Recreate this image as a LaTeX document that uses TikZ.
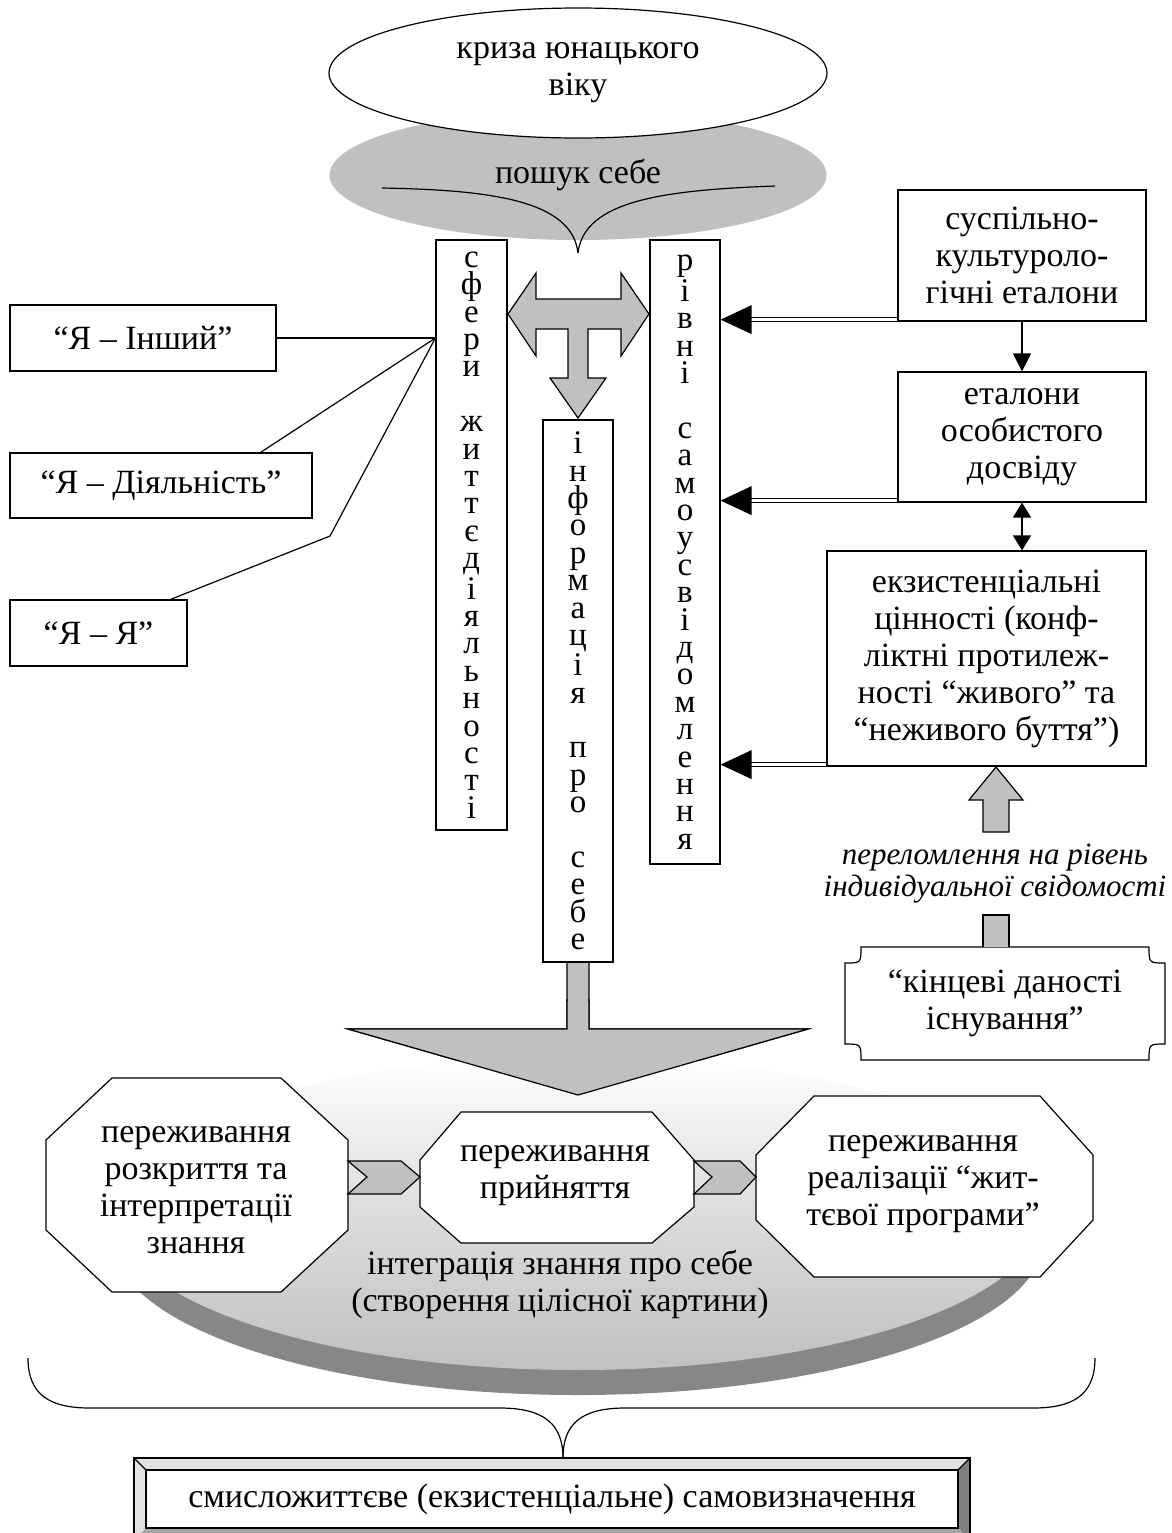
\documentclass[tikz,border=0pt]{standalone}
\usepackage{fontspec}
\setmainfont{Liberation Serif}
\usetikzlibrary{arrows.meta,shapes.geometric}
\definecolor{gr}{RGB}{192,192,192}
\definecolor{rim}{RGB}{135,135,135}
\definecolor{bevl}{RGB}{225,225,225}
\definecolor{bevd}{RGB}{128,128,128}
\definecolor{bevb}{RGB}{165,165,165}
\begin{document}
\begin{tikzpicture}[x=0.5pt,y=-0.5pt,line width=0.6pt,
  txt/.style={font=\fontsize{17}{18.5}\selectfont,align=center,inner sep=0pt},
  box/.style={draw,fill=white,font=\fontsize{17}{18.5}\selectfont,align=center,inner sep=0pt},
  colbox/.style={draw,fill=white,font=\fontsize{16.5}{13.7}\selectfont,align=center,inner sep=0pt},
  grarrow/.style={draw,fill=gr,line width=0.6pt,line join=miter},
  dbl/.style={double,double distance=1.4pt,line width=0.5pt},
  tri/.style={-{Triangle[length=9pt,width=9pt]}},
  bitri/.style={{Triangle[length=7.5pt,width=9pt]}-{Triangle[length=7.5pt,width=9pt]}}]
\useasboundingbox (0,0) rectangle (1172,1533);

% ---------- top ellipses ----------
\node[ellipse,fill=gr,minimum width=248.5pt,minimum height=65pt,inner sep=0pt] (ps) at (578,175) {};
\node[ellipse,draw,fill=white,minimum width=249pt,minimum height=65pt,txt] (kr) at (578,73) {криза юнацького\\віку};
\node[txt] (pst) at (578,175) {пошук себе};
\coordinate (btop) at (578,253);
\draw (382,188) .. controls (490,190) and (572,200) .. (btop);
\draw (775,186) .. controls (666,190) and (584,200) .. (btop);

% ---------- columns ----------
\node[colbox,minimum width=35.5pt,minimum height=295pt] (sf) at (471.5,535)
 {с\\ф\\е\\р\\и\\~\\ж\\и\\т\\т\\є\\д\\і\\я\\л\\ь\\н\\о\\с\\т\\і};
\node[colbox,minimum width=35pt,minimum height=312pt] (rv) at (685,552)
 {р\\і\\в\\н\\і\\~\\с\\а\\м\\о\\у\\с\\в\\і\\д\\о\\м\\л\\е\\н\\н\\я};

% ---------- big down arrow from info column ----------
\draw[grarrow] (567,955) -- (589,955) -- (589,1029) -- (808,1029) -- (578,1095) -- (348,1029) -- (567,1029) -- cycle;

\node[colbox,minimum width=35pt,minimum height=271pt] (inf) at (578,691)
 {і\\н\\ф\\о\\р\\м\\а\\ц\\і\\я\\~\\п\\р\\о\\~\\с\\е\\б\\е};

% ---------- T arrow ----------
\draw[grarrow] (508,314) -- (536,273) -- (536,299) -- (621,299) -- (621,273) -- (649,314)
  -- (621,356) -- (621,329) -- (588,329) -- (588,378) -- (606,378) -- (578,418)
  -- (550,378) -- (568,378) -- (568,329) -- (536,329) -- (536,356) -- cycle;

% ---------- left boxes ----------
\node[box,minimum width=133pt,minimum height=33pt] (inshyi) at (143,338) {“Я – Інший”};
\node[box,minimum width=151pt,minimum height=32.5pt] (diyal) at (161,485.5) {“Я – Діяльність”};
\node[box,minimum width=88.5pt,minimum height=33pt] (yaya) at (98.5,633) {“Я – Я”};
\coordinate (hub) at (sf.west |- inshyi.east);
\coordinate (bend) at (330,536);
\draw (inshyi.east) -- (hub);
\draw ([xshift=-26pt]diyal.north east) -- (hub);
\draw ([xshift=-8.5pt]yaya.north east) -- (bend) -- (hub);

% ---------- right boxes ----------
\node[box,minimum width=124pt,minimum height=65.5pt] (sk) at (1022,255.5) {суспільно-\\культуроло-\\гічні еталони};
\node[box,minimum width=124pt,minimum height=65pt] (et) at (1022,437) {еталони\\особистого\\досвіду};
\node[box,minimum width=159.5pt,minimum height=107.5pt] (ex) at (986.5,658.5)
 {екзистенціальні\\цінності (конф-\\ліктні протилеж-\\ності “живого” та\\“неживого буття”)};

\draw[tri] (sk.south) -- (et.north);
\draw[bitri] (et.south) -- (et.south |- ex.north);

% double-line arrows into the levels column
\foreach \b in {sk,et,ex}{
  \draw[dbl] ([yshift=1pt]\b.south west) -- ([yshift=1pt,xshift=15pt]\b.south west -| rv.east);
  \fill ([yshift=1pt]\b.south west -| rv.east) -- ++(31,-14.5) -- ++(0,29) -- cycle;
}

% ---------- final givens ----------
\draw[fill=white] (861,947) -- (1149,947) .. controls (1149,963) .. (1165,963) -- (1165,1044)
  .. controls (1149,1044) .. (1149,1060) -- (861,1060) .. controls (861,1044) .. (845,1044)
  -- (845,963) .. controls (861,963) .. (861,947) -- cycle;
\node[txt] (kd) at (1005,1003.5) {“кінцеві даності\\існування”};

\draw[grarrow] (996,767) -- (1023,800) -- (1009,800) -- (1009,832) -- (983,832) -- (983,800) -- (969,800) -- cycle;
\draw[grarrow] (983,947) -- (983,915) -- (1009,915) -- (1009,947);
\node[font=\fontsize{15.5}{16}\selectfont\itshape,align=center,inner sep=0pt] (pr) at (995,874)
 {переломлення на рівень\\індивідуальної свідомості};

% ---------- disc ----------
\fill[rim] (578,1240) ellipse [x radius=465, y radius=155];
\shade[top color=white,bottom color=gr,middle color=gr!55] (578,1213) ellipse [x radius=465, y radius=157];
% big arrow head over the disc
\draw[grarrow] (567,1000) -- (589,1000) -- (589,1029) -- (808,1029) -- (578,1095) -- (348,1029) -- (567,1029) -- cycle;
\fill[gr] (568,995) rectangle (588,1031);

% ---------- octagons ----------
\draw[fill=white] (112,1078) -- (281,1078) -- (348,1140) -- (348,1230) -- (281,1292) -- (112,1292) -- (46,1230) -- (46,1140) -- cycle;
\draw[fill=white] (461,1112) -- (652,1112) -- (694,1160) -- (694,1207) -- (652,1243) -- (461,1243) -- (420,1207) -- (420,1160) -- cycle;
\draw[fill=white] (814,1096) -- (1040,1096) -- (1093,1155) -- (1093,1220) -- (1040,1277) -- (814,1277) -- (756,1220) -- (756,1155) -- cycle;
\node[txt] (o1) at (196,1190) {переживання\\розкриття та\\інтерпретації\\знання};
\node[txt] (o2) at (555,1175.5) {переживання\\прийняття};
\node[txt] (o3) at (923,1184) {переживання\\реалізації “жит-\\тєвої програми”};
\draw[grarrow] (348,1161) -- (401,1161) -- (420,1177) -- (401,1194) -- (348,1194) -- (367,1177) -- cycle;
\draw[grarrow] (694,1161) -- (740,1161) -- (756,1177) -- (740,1194) -- (694,1194) -- (712,1177) -- cycle;
\node[txt] (integ) at (560,1284.5) {інтеграція знання про себе\\(створення цілісної картини)};

% ---------- bottom brace ----------
\coordinate (btip) at (563,1458);
\draw (28,1358) .. controls (28,1395) and (50,1408) .. (90,1408) -- (500,1408) .. controls (545,1408) and (563,1425) .. (btip);
\draw (1095,1358) .. controls (1095,1395) and (1073,1408) .. (1033,1408) -- (625,1408) .. controls (580,1408) and (563,1425) .. (btip);

% ---------- bottom bevelled box ----------
\fill[bevl] (134,1458) -- (970,1458) -- (958,1470) -- (146,1470) -- cycle;
\fill[bevl] (134,1458) -- (146,1470) -- (146,1528) -- (134,1540) -- cycle;
\fill[bevd] (970,1458) -- (958,1470) -- (958,1528) -- (970,1540) -- cycle;
\fill[bevb] (134,1540) -- (146,1528) -- (958,1528) -- (970,1540) -- cycle;
\draw (134,1458) rectangle (970,1540);
\draw (134,1458) -- (146,1470) (970,1458) -- (958,1470);
\node[box,minimum width=406pt,minimum height=29pt] (sm) at (552,1499) {смисложиттєве (екзистенціальне) самовизначення};
\end{tikzpicture}
\end{document}
